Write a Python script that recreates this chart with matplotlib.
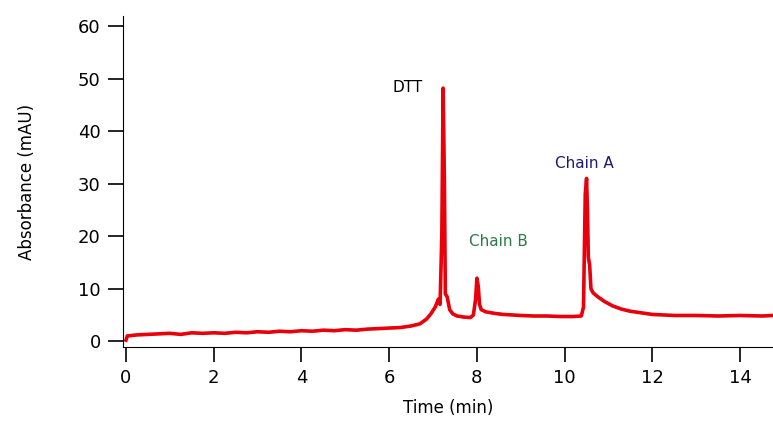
import matplotlib.pyplot as plt

# chromatogram trace
time_min = [0.0, 0.03, 0.25, 0.5, 0.75, 1.0, 1.25, 1.5, 1.75, 2.0, 2.25, 2.5, 2.75,
            3.0, 3.25, 3.5, 3.75, 4.0, 4.25, 4.5, 4.75, 5.0, 5.25, 5.5, 5.75, 6.0,
            6.25, 6.5, 6.7, 6.85, 6.95, 7.05, 7.12, 7.16, 7.2, 7.23, 7.26, 7.28,
            7.32, 7.38, 7.45, 7.55, 7.7, 7.85, 7.92, 7.97, 8.0, 8.03, 8.06, 8.1,
            8.2, 8.4, 8.6, 8.8, 9.0, 9.3, 9.6, 9.9, 10.2, 10.38, 10.43, 10.47,
            10.5, 10.52, 10.54, 10.57, 10.6, 10.65, 10.75, 10.9, 11.1, 11.3, 11.5,
            11.75, 12.0, 12.5, 13.0, 13.5, 14.0, 14.5, 14.75]
absorbance = [0.2, 1.0, 1.2, 1.3, 1.4, 1.5, 1.3, 1.6, 1.5, 1.6, 1.5, 1.7, 1.6,
              1.8, 1.7, 1.9, 1.8, 2.0, 1.9, 2.1, 2.0, 2.2, 2.1, 2.3, 2.4, 2.5,
              2.6, 2.9, 3.3, 4.2, 5.2, 6.5, 8.0, 7.0, 20.0, 48.2, 30.0, 9.0,
              8.5, 6.0, 5.2, 4.8, 4.6, 4.5, 5.0, 8.0, 12.0, 10.5, 7.0, 6.0,
              5.6, 5.3, 5.1, 5.0, 4.9, 4.8, 4.8, 4.7, 4.7, 4.8, 6.5, 28.0,
              31.0, 25.0, 16.0, 14.5, 10.0, 9.2, 8.5, 7.6, 6.7, 6.1, 5.7,
              5.4, 5.1, 4.9, 4.9, 4.8, 4.9, 4.8, 4.9]

peak_names = ["DTT", "Chain B", "Chain A"]
peak_x = [6.43, 8.48, 10.44]
peak_y = [48.4, 18.9, 33.9]
peak_colors = ["black", "#2f7a4a", "#1c1c72"]

fig = plt.figure(figsize=(7.73, 4.26), dpi=100)
ax = fig.add_axes([0.159, 0.185, 0.841, 0.777])

ax.plot(time_min, absorbance, color="#e8000b", linewidth=2.6)

for name, x, y, c in zip(peak_names, peak_x, peak_y, peak_colors):
    ax.text(x, y, name, color=c, fontsize=11, ha="center", va="center")

ax.set_xlim(-0.07, 14.75)
ax.set_ylim(-1.14, 61.9)
ax.set_xticks(range(0, 15, 2))
ax.set_yticks(range(0, 61, 10))
ax.spines["top"].set_visible(False)
ax.spines["right"].set_visible(False)
ax.tick_params(direction="out", length=11, width=1.2, labelsize=13, pad=5)
ax.set_xlabel("Time (min)", fontsize=12, labelpad=8)
ax.set_ylabel("Absorbance (mAU)", fontsize=12, labelpad=30)

fig.savefig("out.png", dpi=100)
